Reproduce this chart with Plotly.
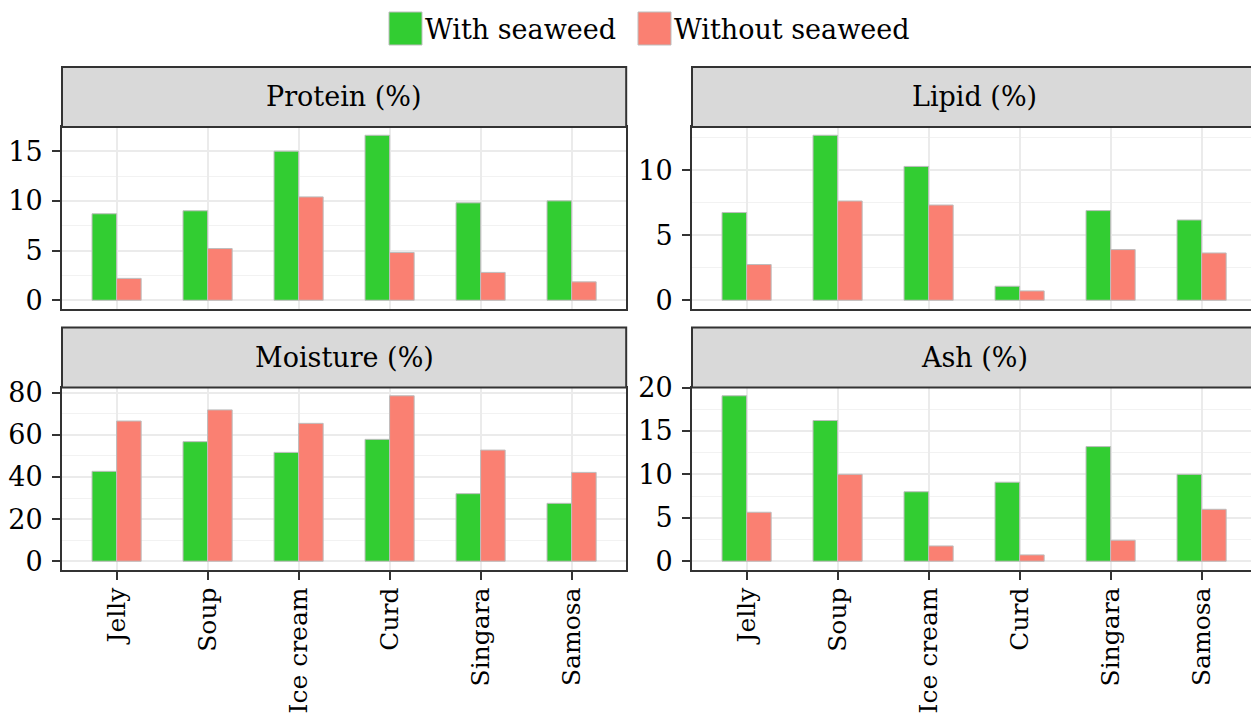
import plotly.graph_objects as go

categories = ["Jelly", "Soup", "Ice cream", "Curd", "Singara", "Samosa"]
series_names = ["With seaweed", "Without seaweed"]
series_colors = ["#32CD32", "#FA8072"]

protein_with = [8.7, 9.0, 15.0, 16.6, 9.8, 10.0]
protein_without = [2.2, 5.2, 10.4, 4.8, 2.8, 1.85]
lipid_with = [6.75, 12.7, 10.3, 1.08, 6.9, 6.18]
lipid_without = [2.75, 7.64, 7.33, 0.72, 3.9, 3.64]
moisture_with = [42.7, 56.8, 51.7, 57.9, 32.1, 27.5]
moisture_without = [66.6, 71.9, 65.5, 78.6, 52.8, 42.2]
ash_with = [19.05, 16.2, 8.0, 9.1, 13.2, 10.0]
ash_without = [5.64, 10.0, 1.76, 0.73, 2.42, 5.98]

panel_titles = ["Protein (%)", "Lipid (%)", "Moisture (%)", "Ash (%)"]
panel_data = [
    (protein_with, protein_without),
    (lipid_with, lipid_without),
    (moisture_with, moisture_without),
    (ash_with, ash_without),
]
major_dticks = [5, 5, 20, 5]

W, H = 1251, 718
FONT = "DejaVu Serif"
FS = 27
FS_X = 25

def px(x):
    return x / W

def py(y):
    return 1 - y / H

unit = 91.0
panels = [
    (62, 62 + 6.2 * unit, 127, 308.5),
    (692, 1251, 127, 308.5),
    (62, 62 + 6.2 * unit, 387.5, 569.5),
    (692, 1251, 387.5, 569.5),
]
strip_h = 60

fig = go.Figure()
shapes = []
annotations = []

for i, (title, (vw, vwo)) in enumerate(zip(panel_titles, panel_data)):
    n = i + 1
    xa = "x" if n == 1 else f"x{n}"
    ya = "y" if n == 1 else f"y{n}"
    for name, vals, col in zip(series_names, (vw, vwo), series_colors):
        fig.add_trace(go.Bar(
            x=categories, y=vals, name=name, xaxis=xa, yaxis=ya,
            marker=dict(color=col, line=dict(color="#BDBDBD", width=1)),
            showlegend=False,
        ))
    l, r, t, b = panels[i]
    vmax = max(max(vw), max(vwo))
    right_panel = (i % 2 == 1)
    bottom_row = (i >= 2)
    xr_hi = -0.6 + (r - l) / unit
    xkey = "xaxis" if n == 1 else f"xaxis{n}"
    ykey = "yaxis" if n == 1 else f"yaxis{n}"
    fig.update_layout(**{
        xkey: dict(
            domain=[px(l), px(r)], anchor=ya, type="category",
            categoryorder="array", categoryarray=categories,
            range=[-0.6, xr_hi], automargin=False,
            showgrid=True, gridcolor="#EBEBEB", gridwidth=1.5,
            showline=True, linecolor="#333333", linewidth=2, mirror=True,
            ticks="outside" if bottom_row else "", ticklen=8, tickwidth=1.5,
            tickcolor="#333333",
            showticklabels=bottom_row, tickangle=-90,
            ticklabelstandoff=-2,
            tickfont=dict(family=FONT, size=FS_X, color="black"),
            zeroline=False, fixedrange=True,
        ),
        ykey: dict(
            domain=[py(b), py(t)], anchor=xa, automargin=False,
            range=[-0.05 * vmax, 1.05 * vmax],
            dtick=major_dticks[i], tick0=0,
            showgrid=True, gridcolor="#EBEBEB", gridwidth=1.5,
            minor=dict(dtick=major_dticks[i] / 2, showgrid=True,
                       gridcolor="#F2F2F2", gridwidth=1),
            showline=True, linecolor="#333333", linewidth=2,
            mirror=not right_panel,
            ticks="outside", ticklen=8, tickwidth=1.5, tickcolor="#333333",
            ticklabelstandoff=4,
            tickfont=dict(family=FONT, size=FS, color="black"),
            zeroline=False, fixedrange=True,
        ),
    })
    strip_r = l + 6.2 * unit
    shapes.append(dict(
        type="rect", xref="paper", yref="paper",
        x0=px(l), x1=px(strip_r), y0=py(t), y1=py(t - strip_h),
        fillcolor="#D9D9D9", line=dict(color="#333333", width=2), layer="above",
    ))
    annotations.append(dict(
        text=title, xref="paper", yref="paper",
        x=px((l + strip_r) / 2), y=py(t - strip_h / 2),
        xanchor="center", yanchor="middle", showarrow=False,
        font=dict(family=FONT, size=FS, color="black"),
    ))

legend_items = [(389, series_names[0], series_colors[0]), (638, series_names[1], series_colors[1])]
for x0, name, col in legend_items:
    shapes.append(dict(
        type="rect", xref="paper", yref="paper",
        x0=px(x0), x1=px(x0 + 33), y0=py(45), y1=py(12),
        fillcolor=col, line=dict(color="#BDBDBD", width=1),
    ))
    annotations.append(dict(
        text=name, xref="paper", yref="paper",
        x=px(x0 + 34), y=py(29), xanchor="left", yanchor="middle",
        showarrow=False, font=dict(family=FONT, size=FS, color="black"),
    ))

fig.update_layout(
    width=W, height=H,
    margin=dict(l=0, r=0, t=0, b=0, pad=0, autoexpand=False),
    paper_bgcolor="white", plot_bgcolor="white",
    barmode="group", bargap=0.46, bargroupgap=0,
    shapes=shapes, annotations=annotations,
    showlegend=False,
    font=dict(family=FONT, size=FS, color="black"),
)

post = (
    "document.body.style.margin='0';document.body.style.padding='0';"
    "document.body.style.overflow='hidden';"
    "var d=document.getElementById('{plot_id}');"
    "d.style.position='absolute';d.style.top='0px';d.style.left='0px';"
)
fig.write_html("out.html", post_script=post, config={"displayModeBar": False})
